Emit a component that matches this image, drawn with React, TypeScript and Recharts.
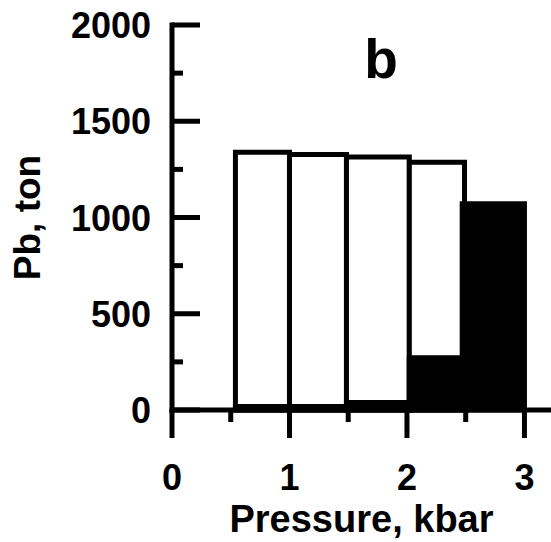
import React from 'react';
import { ComposedChart, XAxis, YAxis, ReferenceArea, Label, Customized } from 'recharts';

// Pressure bins (kbar) and Pb amounts (ton)
const binStart = [0.54, 1.0, 1.485, 2.02];
const binEnd = [1.0, 1.485, 2.02, 2.49];
const totalPb = [1339, 1327, 1314, 1287];

const blackStart = [0.54, 1.0, 1.485, 2.02, 2.47];
const blackEnd = [1.0, 1.485, 2.02, 2.43, 3.0];
const depositedPb = [18, 18, 39, 272, 1072];

const xTicks = [0, 0.5, 1, 1.5, 2, 2.5, 3];
const xMajor = [0, 1, 2, 3];
const yTicks = [0, 250, 500, 750, 1000, 1250, 1500, 1750, 2000];
const yMajor = [0, 500, 1000, 1500, 2000];

const xLabel = 'Pressure, kbar';
const yLabel = 'Pb, ton';
const panelLabel = 'b';

const FONT = "'Liberation Sans', Arial, Helvetica, sans-serif";

const data = blackStart.map((s, i) => ({ x: s, x2: blackEnd[i], y: depositedPb[i] }));

const XTick = (props: any) => {
  const { x, y, payload } = props;
  const v = payload.value;
  const major = xMajor.includes(v);
  return (
    <g>
      <line x1={x} x2={x} y1={y} y2={y + (major ? 28 : 12)} stroke="#000" strokeWidth={5} />
      {major && (
        <text x={x} y={y + 80} textAnchor="middle" fontFamily={FONT} fontWeight="bold" fontSize={36} fill="#000">
          {v}
        </text>
      )}
    </g>
  );
};

const YTick = (props: any) => {
  const { x, y, payload } = props;
  const v = payload.value;
  const major = yMajor.includes(v);
  return (
    <g>
      <line x1={x} x2={x + (major ? 28 : 11)} y1={y} y2={y} stroke="#000" strokeWidth={5} />
      {major && (
        <text x={x - 21} y={y + 13} textAnchor="end" fontFamily={FONT} fontWeight="bold" fontSize={36} fill="#000">
          {v}
        </text>
      )}
    </g>
  );
};

const PanelLabel = () => (
  <text x={381} y={78} textAnchor="middle" fontFamily={FONT} fontWeight="bold" fontSize={55} fill="#000">
    {panelLabel}
  </text>
);

export default function App() {
  return (
    <div style={{ position: 'absolute', left: 0, top: 0, width: 551, height: 542, background: '#fff' }}>
      <ComposedChart width={551} height={542} data={data} margin={{ top: 25, right: 0, bottom: 0, left: 0 }}>
        <XAxis
          type="number"
          dataKey="x"
          domain={[0, 3.226]}
          allowDataOverflow
          ticks={xTicks}
          interval={0}
          tickSize={0}
          tickMargin={0}
          tickLine={false}
          axisLine={{ stroke: '#000', strokeWidth: 5, strokeLinecap: 'square' }}
          height={132}
          tick={<XTick />}
        >
          <Label
            content={(p: any) => {
              const vb = p.viewBox;
              return (
                <text x={vb.x + vb.width / 2} y={vb.y + 122} textAnchor="middle" fontFamily={FONT} fontWeight="bold" fontSize={38} fill="#000">
                  {xLabel}
                </text>
              );
            }}
          />
        </XAxis>
        <YAxis
          type="number"
          domain={[0, 2000]}
          allowDataOverflow
          ticks={yTicks}
          interval={0}
          tickSize={0}
          tickMargin={0}
          tickLine={false}
          axisLine={{ stroke: '#000', strokeWidth: 5, strokeLinecap: 'square' }}
          width={172}
          tick={<YTick />}
        >
          <Label
            content={(p: any) => {
              const vb = p.viewBox;
              const cx = 40;
              const cy = vb.y + vb.height / 2;
              return (
                <text x={cx} y={cy} transform={`rotate(-90, ${cx}, ${cy})`} textAnchor="middle" fontFamily={FONT} fontWeight="bold" fontSize={37} fill="#000">
                  {yLabel}
                </text>
              );
            }}
          />
        </YAxis>
        {binStart.map((s, i) => (
          <ReferenceArea key={`w${i}`} x1={s} x2={binEnd[i]} y1={0} y2={totalPb[i]} fill="#fff" fillOpacity={1} stroke="#000" strokeWidth={5} ifOverflow="visible" />
        ))}
        {blackStart.map((s, i) => (
          <ReferenceArea key={`b${i}`} x1={s} x2={blackEnd[i]} y1={0} y2={depositedPb[i]} fill="#000" fillOpacity={1} stroke="#000" strokeWidth={5} ifOverflow="visible" />
        ))}
        <Customized component={PanelLabel} />
      </ComposedChart>
    </div>
  );
}
